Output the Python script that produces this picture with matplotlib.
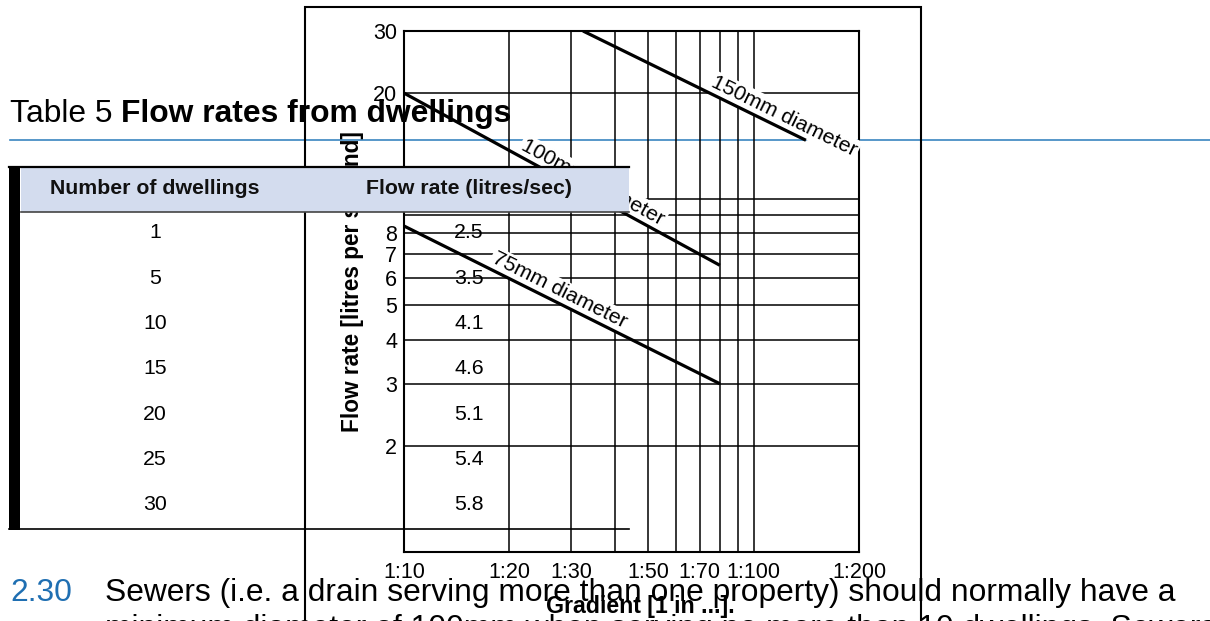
import numpy as np
import matplotlib.pyplot as plt
from matplotlib.patches import Rectangle
from matplotlib.lines import Line2D
from matplotlib.ticker import NullFormatter

plt.rcParams['font.family'] = ['Liberation Sans', 'DejaVu Sans']

# Table 5 values
dwellings = [1, 5, 10, 15, 20, 25, 30]
flow_rates = ['2.5', '3.5', '4.1', '4.6', '5.1', '5.4', '5.8']

# chart: gradient (1 in ...) against flow rate (l/s) for each pipe size
grad_75 = [10, 80]
flow_75 = [8.4, 3.0]
grad_100 = [10, 80]
flow_100 = [20, 6.5]
grad_150 = [32.5, 141]
flow_150 = [30, 14.7]
pipe_labels = ['75mm diameter', '100mm diameter', '150mm diameter']
label_at = [26.9, 33.4, 118]   # gradient where each label sits

x_ticks = [10, 20, 30, 50, 70, 100, 200]
x_ticklabels = ['1:10', '1:20', '1:30', '1:50', '1:70', '1:100', '1:200']
x_grid_only = [40, 60, 80, 90]
y_ticks = [2, 3, 4, 5, 6, 7, 8, 10, 20, 30]
y_grid_only = [9]

W, H = 1210, 621
fig = plt.figure(figsize=(W / 100, H / 100), dpi=100)
fig.patch.set_facecolor('white')


def fx(x):
    return x / W


def fy(y):
    return 1 - y / H


blue = '#1f6fb2'

# --- page text under the chart ---
t1 = fig.text(fx(10), fy(122), 'Table 5 ', fontsize=22.9, va='baseline', zorder=-2)
r = fig.canvas.get_renderer()
bb = t1.get_window_extent(r)
fig.text(bb.x1 / W, fy(122), 'Flow rates from dwellings', fontsize=22.9,
         weight='bold', va='baseline', zorder=-2)
fig.add_artist(Line2D([fx(10), fx(1210)], [fy(140), fy(140)], color='#3a85c0',
                      lw=1.2, transform=fig.transFigure, zorder=-2))

# --- chart ---
ax = fig.add_axes([fx(404), fy(552), fx(859) - fx(404), fy(31) - fy(552)])
ax.set_xscale('log')
ax.set_yscale('log')
ax.set_xlim(10, 200)
ax.set_ylim(1, 30)
ax.set_facecolor('none')
ax.set_xticks(x_ticks, x_ticklabels)
ax.set_xticks(x_grid_only, minor=True)
ax.set_yticks(y_ticks, [str(v) for v in y_ticks])
ax.set_yticks(y_grid_only, minor=True)
ax.xaxis.set_minor_formatter(NullFormatter())
ax.yaxis.set_minor_formatter(NullFormatter())
ax.tick_params(which='both', length=0, labelsize=15.5)
ax.tick_params(axis='x', pad=7)
ax.tick_params(axis='y', pad=5)
ax.grid(which='both', color='black', lw=1.1)
ax.set_axisbelow(True)
for s in ax.spines.values():
    s.set_linewidth(1.5)
    s.set_zorder(2.5)

series = [(grad_75, flow_75), (grad_100, flow_100), (grad_150, flow_150)]
for (g, f), lab, gx in zip(series, pipe_labels, label_at):
    ax.plot(g, f, color='black', lw=2.3, zorder=3, solid_capstyle='butt')
    p0 = ax.transData.transform((g[0], f[0]))
    p1 = ax.transData.transform((g[1], f[1]))
    ang = np.degrees(np.arctan2(p1[1] - p0[1], p1[0] - p0[0]))
    fv = np.exp(np.interp(np.log(gx), np.log(g), np.log(f)))
    d = 8.5
    a = np.radians(ang)
    ax.annotate(lab, xy=(gx, fv), xytext=(-np.sin(a) * d, np.cos(a) * d),
                textcoords='offset points', rotation=ang, rotation_mode='anchor',
                ha='center', va='center', fontsize=15.3, zorder=2.6,
                bbox=dict(boxstyle='square,pad=0.1', fc='white', ec='none'))

fig.text(fx(352), fy(282), 'Flow rate [litres per second]', rotation=90,
         fontsize=16.3, weight='bold', ha='center', va='center')
fig.text(fx(640), fy(607), 'Gradient [1 in ...].', fontsize=16.7, weight='bold',
         ha='center', va='center')

# chart frame
fig.add_artist(Rectangle((fx(305), fy(700)), fx(921) - fx(305), fy(7) - fy(700),
                         fill=False, ec='black', lw=1.5, transform=fig.transFigure,
                         zorder=1))

# --- table over the chart ---
fig.add_artist(Rectangle((fx(21), fy(212)), fx(629) - fx(21), fy(168) - fy(212),
                         fc='#d3dcee', ec='none', transform=fig.transFigure, zorder=5))
fig.add_artist(Rectangle((fx(9), fy(530)), fx(20) - fx(9), fy(166) - fy(530),
                         fc='black', ec='none', transform=fig.transFigure, zorder=5))
fig.add_artist(Line2D([fx(9), fx(629)], [fy(167), fy(167)], color='black', lw=1.6,
                      transform=fig.transFigure, zorder=5))
fig.add_artist(Line2D([fx(21), fx(629)], [fy(212), fy(212)], color='#444444', lw=1.2,
                      transform=fig.transFigure, zorder=5))
fig.add_artist(Line2D([fx(9), fx(629)], [fy(529), fy(529)], color='black', lw=1.2,
                      transform=fig.transFigure, zorder=5))
fig.text(fx(155), fy(189), 'Number of dwellings', fontsize=15.3, weight='bold',
         ha='center', va='center', color='#111111', zorder=6)
fig.text(fx(469), fy(189), 'Flow rate (litres/sec)', fontsize=15.3, weight='bold',
         ha='center', va='center', color='#111111', zorder=6)
row_y = 233
for n, q in zip(dwellings, flow_rates):
    fig.text(fx(155), fy(row_y), str(n), fontsize=15.3, ha='center', va='center', zorder=6)
    fig.text(fx(469), fy(row_y), q, fontsize=15.3, ha='center', va='center', zorder=6)
    row_y += 45.3

# --- body text ---
fig.text(fx(10), fy(601), '2.30', fontsize=22.9, color=blue, va='baseline', zorder=6)
fig.text(fx(105), fy(601),
         'Sewers (i.e. a drain serving more than one property) should normally have a',
         fontsize=22.9, va='baseline', zorder=6)
fig.text(fx(105), fy(637),
         'minimum diameter of 100mm when serving no more than 10 dwellings. Sewers',
         fontsize=22.9, va='baseline', zorder=6)

fig.savefig('out.png', dpi=100)
